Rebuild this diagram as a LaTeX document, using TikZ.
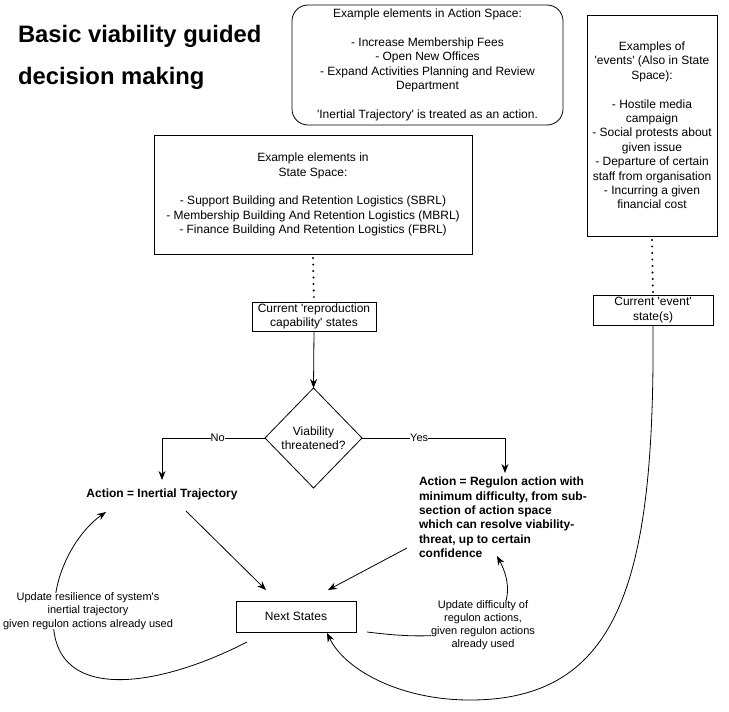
\documentclass[tikz,border=0pt]{standalone}
\usepackage{fontspec}
\setmainfont{Liberation Sans}
\usetikzlibrary{shapes.geometric,arrows.meta,calc}
\newcommand{\sq}{\textquotesingle}
\begin{document}
\begin{tikzpicture}[x=1pt,y=-1pt,
  every node/.style={inner sep=0pt, outer sep=0pt},
  box/.style={draw, line width=0.8pt, align=center, font=\fontsize{12}{14.4}\selectfont},
  lbl/.style={fill=white, align=center, font=\fontsize{11}{13.2}\selectfont},
  bold/.style={font=\fontsize{12}{14.4}\selectfont\bfseries},
  arr/.style={line width=0.8pt, -{Stealth[length=9pt,width=7pt]}},
  dot/.style={line width=2.2pt, dash pattern=on 0pt off 6.5pt, line cap=round}]
\useasboundingbox (0,0) rectangle (729,712);
\fill[white] (0,0) rectangle (729,712);

% title
\node[anchor=west, align=left, font=\fontsize{23.8}{42}\selectfont\bfseries] (title) at (18,57) {Basic viability guided\\decision making};

% boxes
\node[box, rounded corners=16pt, minimum width=271pt, minimum height=120pt] (act) at (427.5,65)
 {Example elements in Action Space:\\~\\- Increase Membership Fees\\- Open New Offices\\- Expand Activities Planning and Review\\Department\\~\\\sq Inertial Trajectory\sq\ is treated as an action.};
\node[box, minimum width=130pt, minimum height=221pt] (ev) at (652,125.5)
 {Examples of\\\sq events\sq\ (Also in State\\Space):\\~\\- Hostile media\\campaign\\- Social protests about\\given issue\\- Departure of certain\\staff from organisation\\- Incurring a given\\financial cost};
\node[box, minimum width=318pt, minimum height=119pt] (ss) at (313,194.5)
 {Example elements in\\State Space:\\~\\- Support Building and Retention Logistics (SBRL)\\- Membership Building And Retention Logistics (MBRL)\\- Finance Building And Retention Logistics (FBRL)};
\node[box, minimum width=124pt, minimum height=29pt] (rep) at (314,316.5)
 {Current \sq reproduction\\capability\sq\ states};
\node[box, minimum width=120pt, minimum height=30pt] (evs) at (653,310)
 {Current \sq event\sq\\state(s)};
\node[box, minimum width=120pt, minimum height=31pt] (ns) at (296,616.5) {Next States};
\node[draw, line width=0.8pt, shape=diamond, minimum width=97pt, minimum height=100pt, align=center,
  font=\fontsize{12}{14.4}\selectfont] (dia) at (313.5,438) {Viability\\threatened?};

\node[bold, text height=9pt, text depth=3pt] (inert) at (162,494) {Action = Inertial Trajectory};
\node[bold, anchor=north west, align=left] (reg) at (419,477)
 {Action = Regulon action with\\minimum difficulty, from sub-\\section of action space\\which can resolve viability-\\threat, up to certain\\confidence};

% dotted links
\draw[dot] ($(ss.south)+(0,4)$) -- (rep.north);
\draw[dot] ($(ev.south)+(0,4)$) -- (evs.north);

% arrows
\draw[arr] (rep.south) -- (dia.north);
\draw[arr, shorten >=8pt] (dia.west) -| (inert.north) node[pos=0.23, lbl] {No};
\draw[arr, shorten >=4pt] (dia.east) -| ([xshift=86pt]reg.north west) node[pos=0.2, lbl] {Yes};
\draw[arr] ($(inert.south)+(24,11)$) -- ($(ns.north)+(-30,-11)$);
\draw[arr] ($(reg.north west)+(-12,71)$) -- ($(ns.north)+(32,-11)$);

% feedback curves
\draw[arr] ($(ns.south west)+(11,10)$) .. controls (150,692) and (38,705) .. (55,600)
  .. controls (58,565) and (80,530) .. ($(inert.south)+(-56,12)$);
\draw[arr] ($(ns.south east)+(11,0)$) .. controls (400,636) and (440,640) .. (483,627)
  .. controls (515,610) and (510,580) .. ($(reg.north west)+(78,79)$);
\draw[arr] (evs.south) .. controls (655,580) and (620,700) .. (470,700)
  .. controls (400,700) and (345,670) .. ($(ns.south)+(31,1)$);

\node[lbl] (l1) at (88,611) {Update resilience of system\sq s\\inertial trajectory\\given regulon actions already used};
\node[lbl] (l2) at (483,625) {Update difficulty of\\regulon actions,\\given regulon actions\\already used};
\end{tikzpicture}
\end{document}
